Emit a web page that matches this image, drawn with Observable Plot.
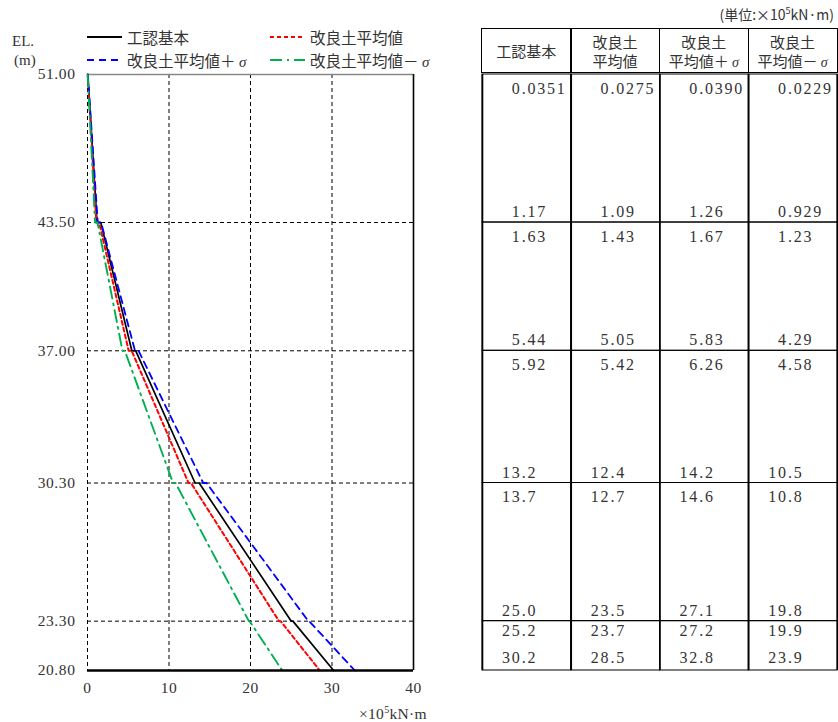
<!DOCTYPE html>
<html><head><meta charset="utf-8">
<script src="https://cdn.jsdelivr.net/npm/d3@7"></script>
<script src="https://cdn.jsdelivr.net/npm/@observablehq/plot@0.6"></script>
<style>
body{margin:0;background:#fff;}
#wrap{position:relative;width:838px;height:722px;font-family:"Noto Sans CJK JP",sans-serif;color:#333;overflow:hidden;}
.abs{position:absolute;white-space:nowrap;}
.serif{font-family:"Liberation Serif","DejaVu Serif",serif !important;}
#left,#table{position:absolute;top:0;}
#left{left:0;} #table{left:470px;}
#left svg text{letter-spacing:0.6px;font-family:"Liberation Serif","DejaVu Serif",serif;}
#table svg text{letter-spacing:1.8px;font-family:"Liberation Serif","DejaVu Serif",serif;}
.hcell{position:absolute;top:28px;height:45px;box-sizing:border-box;border:1.5px solid #000;display:flex;flex-direction:column;align-items:center;justify-content:center;font-size:15px;color:#333;}
.hcell div{height:19px;line-height:19px;}
.leg{position:absolute;display:flex;align-items:center;font-size:15.5px;}
.leg svg{margin-right:4px;}
</style></head><body><div id="wrap"></div>
<script>
// ---- data ----
const elevations = [51.00, 43.50, 37.00, 30.30, 23.30, 20.80];
const xTicks = [0, 10, 20, 30, 40];
const seriesNames = ["工認基本", "改良土平均値", "改良土平均値＋σ", "改良土平均値－σ"];
const kouninKihon = ["0.0351","1.17","1.63","5.44","5.92","13.2","13.7","25.0","25.2","30.2"];
const kairyoMean  = ["0.0275","1.09","1.43","5.05","5.42","12.4","12.7","23.5","23.7","28.5"];
const kairyoPlus  = ["0.0390","1.26","1.67","5.83","6.26","14.2","14.6","27.1","27.2","32.8"];
const kairyoMinus = ["0.0229","0.929","1.23","4.29","4.58","10.5","10.8","19.8","19.9","23.9"];
const headerLines = [["工認基本"], ["改良土","平均値"], ["改良土","平均値＋σ"], ["改良土","平均値－σ"]];

// ---- styles ----
const styles = [
  {color:"#000000", width:1.7, dash:null},
  {color:"#ff0000", width:2, dash:"4,3"},
  {color:"#0000ff", width:1.8, dash:"7,5"},
  {color:"#00b050", width:1.9, dash:"12,5,2,5"}
];
const seriesValues = [kouninKihon, kairyoMean, kairyoPlus, kairyoMinus];
const serifStack = "'Liberation Serif', 'DejaVu Serif', serif";

const wrap = document.getElementById("wrap");

// line data
const lineData = [];
seriesValues.forEach((vals, k) => vals.forEach((v, i) => {
  lineData.push({series: seriesNames[k], k, x: +v, y: elevations[Math.floor((i + 1) / 2)]});
}));

const leftDiv = document.createElement("div"); leftDiv.id = "left"; wrap.appendChild(leftDiv);
const left = Plot.plot({
  width: 470, height: 722, marginTop: 74, marginBottom: 52, marginLeft: 87, marginRight: 57,
  x: {domain: [0, 40], ticks: xTicks, tickSize: 0, tickPadding: 11, label: null},
  y: {domain: [20.8, 51], ticks: elevations, tickFormat: d => d.toFixed(2), tickSize: 0, tickPadding: 12, label: null},
  style: {fontFamily: serifStack, fontSize: "15.5px", color: "#333", background: "transparent"},
  marks: [
    Plot.ruleX([0, 10, 20, 30], {stroke: "#000", strokeWidth: 1, strokeDasharray: "4,3"}),
    Plot.ruleY(elevations.slice(1, -1), {stroke: "#000", strokeWidth: 1, strokeDasharray: "4,3"}),
    Plot.ruleY([elevations[0]], {stroke: "#888", strokeWidth: 1.5}),
    Plot.ruleX([40], {stroke: "#000", strokeWidth: 1.6}),
    ...styles.map((s, k) => Plot.line(lineData.filter(d => d.k === k), {
      x: "x", y: "y", stroke: s.color, strokeWidth: s.width, strokeDasharray: s.dash
    })),
    Plot.ruleY([elevations[elevations.length - 1]], {stroke: "#000", strokeWidth: 2.5})
  ]
});
leftDiv.appendChild(left);

function addDiv(html, css, cls) {
  const d = document.createElement("div");
  d.className = "abs " + (cls || "");
  d.innerHTML = html;
  Object.assign(d.style, css);
  wrap.appendChild(d);
  return d;
}
addDiv("EL.", {left: "12px", top: "33px", fontSize: "15px"}, "serif");
addDiv("(m)", {left: "14px", top: "52px", fontSize: "15px"}, "serif");
addDiv("×10<sup style='font-size:10px'>5</sup>kN·m", {left: "359px", top: "700px", fontSize: "15.5px", lineHeight: "20px", letterSpacing: "0.3px"}, "serif");

// legend
const legPos = [[87, 37], [270, 37], [87, 60], [270, 60]];
seriesNames.forEach((name, k) => {
  const s = styles[k];
  const d = document.createElement("div");
  d.className = "leg";
  d.style.left = legPos[k][0] + "px";
  d.style.top = (legPos[k][1] - 11) + "px";
  d.style.height = "22px";
  d.innerHTML = `<svg width="36" height="6"><line x1="0" y1="3" x2="35" y2="3" stroke="${s.color}" stroke-width="2.2" ${s.dash ? `stroke-dasharray="${s.dash}"` : ""}/></svg><span>${name.replace("σ", " <i class='serif' style='font-size:15px'>σ</i>")}</span>`;
  wrap.appendChild(d);
});

// ---- table ----
addDiv("(単位:×10<sup style='font-size:9px'>5</sup>kN·m)", {right: "4px", top: "4px", fontSize: "14px"});
const colW = (837 - 482) / 4;
headerLines.forEach((lines, c) => {
  const d = document.createElement("div");
  d.className = "hcell";
  d.style.left = (482 + c * colW - 0.75) + "px";
  d.style.width = (colW + 1.5) + "px";
  d.innerHTML = lines.map(l => `<div>${l.replace("σ", " <i class='serif' style='font-size:14px'>σ</i>")}</div>`).join("");
  wrap.appendChild(d);
});

const cells = [];
for (let c = 0; c < 4; c++) for (let l = 0; l < elevations.length - 1; l++)
  cells.push({c, top: elevations[l], bottom: elevations[l + 1]});

const textData = [];
seriesValues.forEach((vals, c) => vals.forEach((v, i) => {
  const layer = Math.floor(i / 2);
  const isTop = i % 2 === 0;
  const last = layer === elevations.length - 2;
  const [ip, fp] = v.split(".");
  textData.push({c, y: elevations[Math.floor((i + 1) / 2)], ip, fp: "." + fp,
    group: (last ? "last" : "main") + (isTop ? "Top" : "Bot")});
}));
const groupDy = {mainTop: 14, mainBot: -10.5, lastTop: 10, lastBot: -13};
const decX = 0.43;
const textMarks = Object.entries(groupDy).flatMap(([g, dy]) => {
  const data = textData.filter(d => d.group === g);
  return [
    Plot.text(data, {x: d => d.c + decX, y: "y", text: "ip", textAnchor: "end", dy, dx: 1, fill: "#333"}),
    Plot.text(data, {x: d => d.c + decX, y: "y", text: "fp", textAnchor: "start", dy, dx: 1, fill: "#333"})
  ];
});

const tableDiv = document.createElement("div"); tableDiv.id = "table"; wrap.appendChild(tableDiv);
const table = Plot.plot({
  width: 368, height: 722, marginTop: 74, marginBottom: 52, marginLeft: 12, marginRight: 1,
  x: {domain: [0, 4], axis: null},
  y: {domain: [20.8, 51], axis: null},
  style: {fontFamily: serifStack, fontSize: "16px", color: "#333", background: "transparent"},
  marks: [
    Plot.rect(cells, {x1: "c", x2: d => d.c + 1, y1: "bottom", y2: "top", stroke: "#000", strokeWidth: 1, fill: "none"}),
    Plot.ruleX([0, 1, 2, 3, 4], {y1: elevations[elevations.length - 1], y2: elevations[0], stroke: "#000", strokeWidth: 1.6}),
    ...textMarks
  ]
});
tableDiv.appendChild(table);
</script></body></html>
